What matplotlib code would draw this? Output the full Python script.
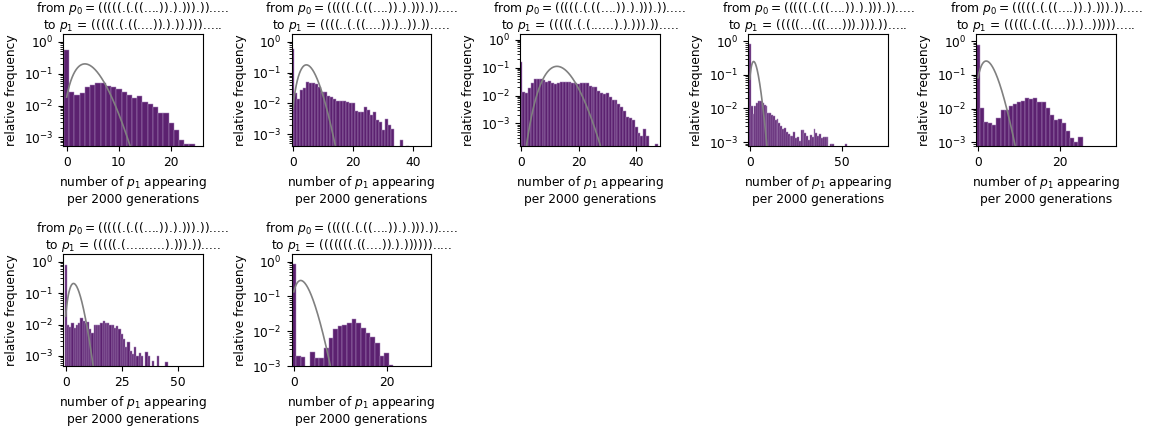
import math
import numpy as np
import matplotlib
matplotlib.use("Agg")
import matplotlib.pyplot as plt

# Secondary structures (dot-bracket) of the source phenotype and each target
p0_structure = "(((((.(.((....)).).))).))....."
p1_structures = [
    "(((((.(.((....)).).)).))).....",
    "((((..(.((....)).)..)).)).....",
    "(((((.(.(......).).))).)).....",
    "(((((...(((....))).))).)).....",
    "(((((.(.((....)).)..))))).....",
    "(((((.(..........).))).)).....",
    "(((((((.((....)).).)))))).....",
]

# Relative frequency of observing k appearances of p1 per 2000 generations (k = 0, 1, 2, ...)
freq_1 = [0.56, 0.026, 0.021, 0.024, 0.038, 0.045, 0.049, 0.049, 0.040, 0.037,
          0.032, 0.027, 0.021, 0.0174, 0.020, 0.0131, 0.0111, 0.0087, 0.0059, 0.0057,
          0.0029, 0.0017, 0.00084, 0.00063, 0.00063]
freq_2 = [0.58, 0.0213, 0.0139, 0.0273, 0.031, 0.051, 0.045, 0.045, 0.042, 0.035,
          0.024, 0.024, 0.0179, 0.0166, 0.0139, 0.0123, 0.0123, 0.0123, 0.0114, 0.0100,
          0.0100, 0.0058, 0.0054, 0.0054, 0.0074, 0.0061, 0.0042, 0.0054, 0.0029, 0.0025,
          0.00136, 0.0030, 0.0020, 0.00147, 0, 0, 0.00064, 0, 0.00042]
freq_3 = [0.163, 0.0137, 0.0120, 0.0191, 0.0273, 0.038, 0.038, 0.038, 0.036, 0.0313,
          0.033, 0.0273, 0.0258, 0.0273, 0.0296, 0.0305, 0.0313, 0.0313, 0.0273, 0.0288,
          0.0258, 0.0273, 0.0288, 0.0273, 0.0219, 0.0207, 0.0207, 0.0145, 0.0126, 0.0113,
          0.0120, 0.0091, 0.0069, 0.0069, 0.0048, 0.0038, 0.0029, 0.00165, 0.00152, 0.00132,
          0.00076, 0.00044, 0.00034, 0.00061, 0.00035, 0, 0, 0.00019]
freq_4 = [0.84, 0.0119, 0.0067, 0.0119, 0.0149, 0.0171, 0.0171, 0.0149, 0.0127, 0.0119,
          0.0075, 0.0075, 0.0064, 0.0060, 0.0045, 0.0048, 0.0038, 0.0029, 0.0024, 0.0027,
          0.0020, 0.0017, 0.0015, 0.0015, 0.0020, 0.0013, 0.00144, 0.00107, 0.0023, 0.0023,
          0.0018, 0.0015, 0.00115, 0.0016, 0.00144, 0.0024, 0.0018, 0.0015, 0.0017, 0.0013,
          0.00144, 0.00144, 0.00144, 0, 0.00085, 0.00085, 0, 0, 0, 0,
          0, 0, 0.00085]
freq_5 = [0.76, 0.0102, 0.0041, 0.0038, 0.0033, 0.0052, 0.0091, 0.0091, 0.0119, 0.0137,
          0.016, 0.0172, 0.021, 0.0192, 0.0201, 0.016, 0.016, 0.0102, 0.0065, 0.0046,
          0.0048, 0.0037, 0.0021, 0.00132, 0.00105, 0.00141]
freq_6 = [0.79, 0.010, 0.0085, 0.0114, 0.0079, 0.010, 0.0114, 0.0163, 0.0128, 0.0108,
          0.0119, 0.0073, 0.0055, 0.010, 0.0093, 0.010, 0.0114, 0.0128, 0.0114, 0.0108,
          0.010, 0.010, 0.0079, 0.0089, 0.0070, 0.0049, 0.0034, 0.0019, 0.0027, 0.00145,
          0.00114, 0.0019, 0.0010, 0.00123, 0.0010, 0, 0.00129, 0.0010, 0, 0.0007,
          0, 0.0010, 0, 0, 0, 0.00063]
freq_7 = [0.86, 0.0020, 0.0018, 0, 0.0026, 0.00165, 0.00165, 0.0032, 0.0062, 0.0115,
          0.0141, 0.0151, 0.0168, 0.0219, 0.0175, 0.0126, 0.0089, 0.0069, 0.0045, 0.0020,
          0.0023, 0.00105]
frequencies = [freq_1, freq_2, freq_3, freq_4, freq_5, freq_6, freq_7]

# Expected number of appearances under a Poisson null model
poisson_rates = [4.0, 5.0, 13.0, 2.6, 2.5, 4.0, 2.0]

# Axis ranges
x_ranges = [(-0.7, 26.0), (-0.45, 45.9), (-0.35, 48.1), (-0.8, 74.6),
            (-0.45, 33.6), (-1.2, 61.0), (-0.5, 29.6)]
y_ranges = [(5.4e-4, 1.74), (4.1e-4, 1.82), (1.55e-4, 1.6), (7.6e-4, 1.66),
            (7.8e-4, 1.62), (4.8e-4, 1.74), (1.0e-3, 1.66)]

BAR_FACE = "#5c2170"
BAR_EDGE = "#a98abb"
CURVE_COLOR = "#808080"

plt.rcParams["font.size"] = 8.8
plt.rcParams["axes.titlesize"] = 8.8
plt.rcParams["mathtext.fontset"] = "dejavusans"

W, H = 1151, 428
fig = plt.figure(figsize=(W / 100, H / 100), dpi=100)

col_left = [63, 291.5, 520, 748.3, 976.2]
row_top = [34, 254]
ax_w, ax_h = 139.5, 112


def poisson_curve(x, lam):
    lg = np.array([math.lgamma(v + 1.0) for v in x])
    return np.exp(x * np.log(lam) - lam - lg)


for i, (freq, target) in enumerate(zip(frequencies, p1_structures)):
    r, c = divmod(i, 5)
    left = col_left[c] / W
    bottom = 1 - (row_top[r] + ax_h) / H
    ax = fig.add_axes([left, bottom, ax_w / W, ax_h / H])

    k = np.arange(len(freq))
    f = np.asarray(freq, dtype=float)
    keep = f > 0
    ax.bar(k[keep], f[keep], width=1.0, align="center",
           color=BAR_FACE, edgecolor=BAR_EDGE, linewidth=0.35)

    xr = x_ranges[i]
    xs = np.linspace(0, xr[1], 500)
    ax.plot(xs, poisson_curve(xs, poisson_rates[i]), color=CURVE_COLOR, lw=1.2)

    ax.set_yscale("log")
    ax.set_xlim(*xr)
    ax.set_ylim(*y_ranges[i])
    ax.set_ylabel("relative frequency")
    ax.set_xlabel("number of $p_1$ appearing\nper 2000 generations")
    ax.set_title(f"from $p_0 = ${p0_structure}\nto $p_1$ = {target}",
                 pad=2.5, linespacing=1.0)

fig.savefig("out.png", dpi=100)
